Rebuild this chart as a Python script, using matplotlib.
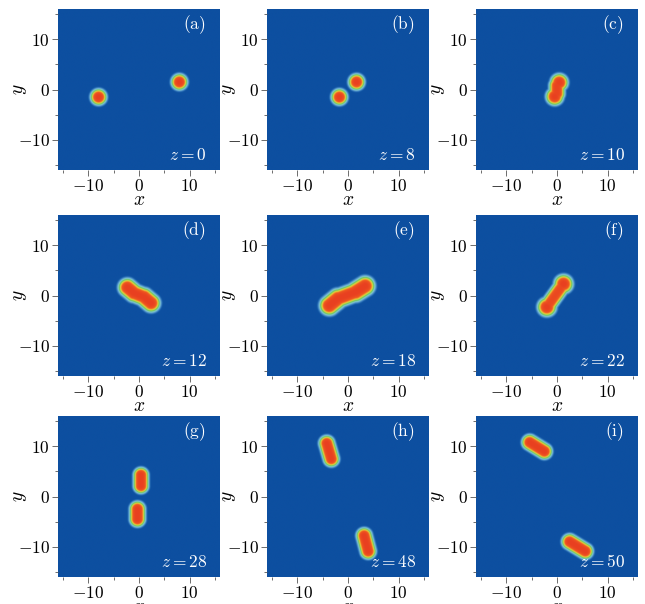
# soliton pair intensity snapshots, 3x3 panels
import numpy as np
import matplotlib
matplotlib.use("Agg")
import matplotlib.pyplot as plt
from matplotlib.colors import LinearSegmentedColormap
from matplotlib.ticker import MultipleLocator, FuncFormatter

plt.rcParams['mathtext.fontset'] = 'cm'
plt.rcParams['font.family'] = 'serif'

panel_labels = ["(a)", "(b)", "(c)", "(d)", "(e)", "(f)", "(g)", "(h)", "(i)"]
z_values = [0, 8, 10, 12, 18, 22, 28, 48, 50]

# each blob piece: (x1, y1, x2, y2, width, amplitude)
blobs_a = [(-8.0, -1.5, -8.0, -1.5, 1.35, 1.0), (8.0, 1.5, 8.0, 1.5, 1.35, 1.0)]
blobs_b = [(-1.7, -1.5, -1.7, -1.5, 1.35, 1.0), (1.7, 1.5, 1.7, 1.5, 1.35, 1.0)]
blobs_c = [(0.45, 1.4, 0.45, 1.4, 1.45, 1.0), (-0.45, -1.4, -0.45, -1.4, 1.45, 1.0),
           (0.0, 0.8, 0.0, -0.8, 1.3, 0.95)]
blobs_d = [(-2.3, 1.6, -1.0, 0.5, 1.5, 1.0), (-1.0, 0.5, 1.0, -0.3, 1.45, 1.0),
           (1.0, -0.3, 2.4, -1.5, 1.5, 1.0)]
blobs_e = [(-3.7, -2.0, -2.0, -0.6, 1.6, 1.0), (-2.0, -0.6, 1.5, 0.7, 1.5, 1.0),
           (1.5, 0.7, 3.4, 1.9, 1.6, 1.0)]
blobs_f = [(-2.0, -2.3, -2.0, -2.3, 1.55, 1.0), (1.3, 2.3, 1.3, 2.3, 1.55, 1.0),
           (-2.0, -2.3, 1.3, 2.3, 1.3, 0.9)]
blobs_g = [(0.4, 2.1, 0.4, 4.3, 1.25, 1.0), (-0.3, -2.5, -0.3, -4.5, 1.3, 1.0)]
blobs_h = [(-4.2, 10.6, -3.3, 7.5, 1.3, 1.0), (3.2, -7.8, 4.0, -10.9, 1.3, 1.0)]
blobs_i = [(-5.4, 10.8, -2.5, 9.0, 1.3, 1.0), (2.5, -9.0, 5.6, -10.9, 1.3, 1.0)]
all_blobs = [blobs_a, blobs_b, blobs_c, blobs_d, blobs_e, blobs_f, blobs_g, blobs_h, blobs_i]

cmap = LinearSegmentedColormap.from_list("beam", [
    (0.0, "#0d4fa0"), (0.02, "#0e52a2"), (0.08, "#4a8ecb"), (0.18, "#8ccfd0"),
    (0.3, "#5ec060"), (0.45, "#d8e040"), (0.58, "#f0a030"), (0.7, "#f05a20"),
    (1.0, "#e84020")])

L = 16
grid = np.linspace(-L, L, 400)
X, Y = np.meshgrid(grid, grid)


def field(pieces):
    out = np.zeros_like(X)
    for x1, y1, x2, y2, w, a in pieces:
        dx, dy = x2 - x1, y2 - y1
        seg2 = dx * dx + dy * dy
        if seg2 == 0:
            t = 0.0
        else:
            t = np.clip(((X - x1) * dx + (Y - y1) * dy) / seg2, 0, 1)
        d2 = (X - x1 - t * dx) ** 2 + (Y - y1 - t * dy) ** 2
        out = np.maximum(out, a * np.exp(-(d2 / w ** 2) ** 1.5))
    return out


fig = plt.figure(figsize=(6.45, 6.04), dpi=100)
W, H = 645, 604
lefts = [58, 267, 476]
tops = [9, 215, 416]
aw, ah = 162, 161

fmt = FuncFormatter(lambda v, p: f"${v:g}$")

for k in range(9):
    r, c = divmod(k, 3)
    ax = fig.add_axes([lefts[c] / W, 1 - (tops[r] + ah) / H, aw / W, ah / H])
    ax.imshow(field(all_blobs[k]), extent=[-L, L, -L, L], origin="lower",
              cmap=cmap, vmin=0, vmax=1, interpolation="bilinear", aspect="auto")
    ax.set_xlim(-L, L)
    ax.set_ylim(-L, L)
    for s in ax.spines.values():
        s.set_visible(False)
    ax.xaxis.set_major_locator(MultipleLocator(10))
    ax.yaxis.set_major_locator(MultipleLocator(10))
    ax.xaxis.set_minor_locator(MultipleLocator(5))
    ax.yaxis.set_minor_locator(MultipleLocator(5))
    ax.xaxis.set_major_formatter(fmt)
    ax.yaxis.set_major_formatter(fmt)
    ax.tick_params(which="both", direction="out", color="#555555", width=0.6, labelsize=12.5, pad=2)
    ax.tick_params(which="major", length=4)
    ax.tick_params(which="minor", length=2.5)
    ax.set_xlabel("$x$", fontsize=14, labelpad=-3)
    ax.set_ylabel("$y$", fontsize=14, labelpad=-8)
    ax.text(0.91, 0.90, "$\\mathrm{" + panel_labels[k] + "}$", transform=ax.transAxes,
            color="white", fontsize=12.5, ha="right", va="center")
    ax.text(0.92, 0.09, f"$z={z_values[k]}$", transform=ax.transAxes,
            color="white", fontsize=12.5, ha="right", va="center")

fig.savefig("out.png", dpi=100)
